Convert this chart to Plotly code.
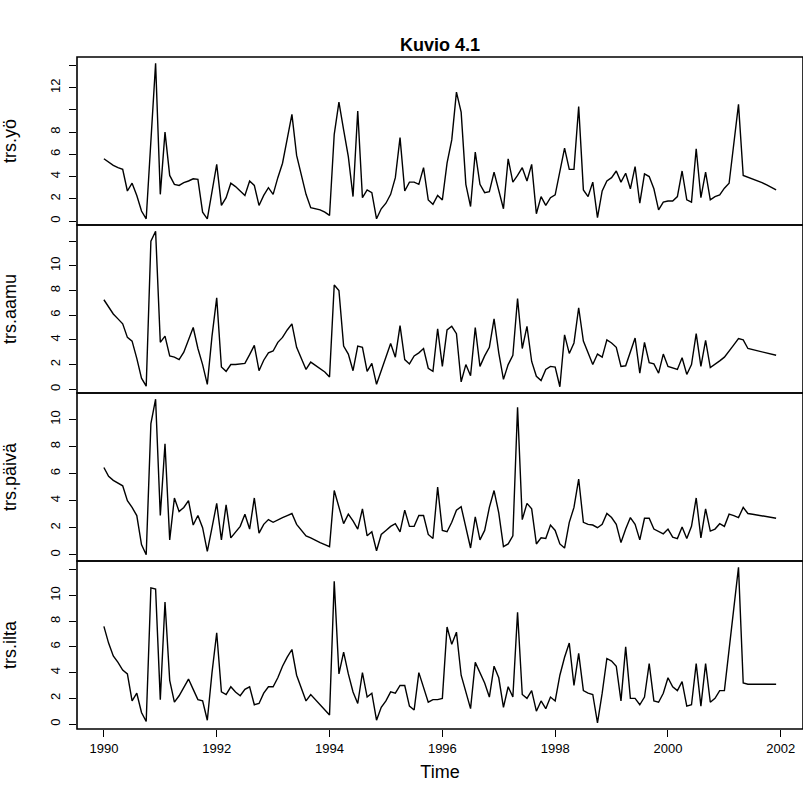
import plotly.graph_objects as go

# Monthly series, January 1990 - December 2001
start_year = 1990

trs_yo = [
    5.6, 5.3, 5.0, 4.8, 4.65, 2.7, 3.4, 2.3, 0.9, 0.2, 7.7, 14.2,
    2.4, 8.0, 4.1, 3.3, 3.2, 3.45, 3.6, 3.8, 3.75, 0.8, 0.2, 2.6,
    5.1, 1.4, 2.1, 3.4, 3.1, 2.7, 2.3, 3.6, 3.2, 1.4, 2.3, 3.0,
    2.4, 3.9, 5.2, 7.4, 9.6, 5.9, 4.1, 2.4, 1.2, 1.1, 1.0, 0.8,
    0.5, 7.8, 10.7, 8.2, 5.8, 2.2, 9.9, 2.1, 2.8, 2.55, 0.2, 1.1,
    1.6, 2.4, 3.9, 7.5, 2.7, 3.5, 3.5, 3.3, 4.8, 1.9, 1.5, 2.3,
    1.9, 5.2, 7.3, 11.6, 9.8, 3.3, 1.3, 6.2, 3.3, 2.55, 2.65, 4.4,
    2.7, 1.1, 5.6, 3.5, 4.1, 4.8, 3.6, 5.1, 0.65, 2.2, 1.4, 2.1,
    2.35, 4.55, 6.55, 4.65, 4.65, 10.3, 2.8, 2.2, 3.5, 0.3, 2.7, 3.6,
    3.9, 4.5, 3.5, 4.3, 2.9, 4.9, 1.6, 4.25, 4.0, 2.9, 1.0, 1.7,
    1.8, 1.8, 2.2, 4.5, 1.9, 1.7, 6.5, 2.1, 4.4, 1.9, 2.2, 2.35,
    2.95, 3.4, 7.0, 10.5, 4.1, 3.95, 3.8, 3.6, 3.45, 3.25, 3.05, 2.8,
]

trs_aamu = [
    7.25, 6.7, 6.1, 5.7, 5.3, 4.2, 3.9, 2.5, 0.9, 0.25, 12.0, 12.8,
    3.8, 4.3, 2.7, 2.6, 2.4, 3.0, 4.0, 5.0, 3.3, 2.0, 0.4, 4.3,
    7.4, 1.8, 1.45, 2.0, 2.0, 2.05, 2.1, 2.8, 3.55, 1.5, 2.35, 2.95,
    3.1, 3.8, 4.2, 4.8, 5.3, 3.4, 2.5, 1.6, 2.2, 1.95, 1.7, 1.4,
    1.0, 8.45, 8.0, 3.5, 2.85, 1.5, 3.5, 3.4, 1.45, 2.1, 0.4, 1.45,
    2.5, 3.7, 2.6, 5.15, 2.4, 2.05, 2.7, 2.95, 3.3, 1.7, 1.45, 4.9,
    1.85, 4.8, 5.1, 4.5, 0.6, 2.0, 1.1, 5.0, 1.85, 2.7, 3.4, 5.7,
    2.95, 0.8, 2.0, 2.75, 7.35, 3.3, 5.1, 2.25, 1.05, 0.7, 1.6, 1.85,
    1.8, 0.2, 4.4, 2.9, 3.75, 6.6, 3.9, 2.9, 2.0, 2.85, 2.6, 4.0,
    3.75, 3.4, 1.85, 1.9, 3.0, 4.15, 1.3, 3.8, 2.15, 2.05, 1.3, 2.85,
    1.85, 1.75, 1.6, 2.55, 1.2, 2.0, 4.5, 1.85, 3.95, 1.75, 2.0, 2.3,
    2.6, 3.15, 3.6, 4.1, 4.0, 3.3, 3.2, 3.1, 3.0, 2.9, 2.8, 2.75,
]

trs_paiva = [
    6.45, 5.8, 5.5, 5.3, 5.1, 4.0, 3.5, 2.9, 0.75, 0.0, 9.7, 11.5,
    2.9, 8.2, 1.1, 4.2, 3.2, 3.5, 4.0, 2.2, 2.9, 2.0, 0.25, 2.0,
    3.8, 1.1, 3.7, 1.25, 1.7, 2.1, 3.0, 1.9, 4.2, 1.6, 2.25, 2.6,
    2.4, 2.6, 2.75, 2.9, 3.05, 2.25, 1.8, 1.4, 1.25, 1.05, 0.9, 0.75,
    0.6, 4.75, 3.5, 2.3, 3.0, 2.5, 1.9, 3.4, 1.4, 1.7, 0.3, 1.5,
    1.8, 2.1, 2.3, 1.7, 3.3, 2.1, 2.1, 2.9, 2.9, 1.5, 1.2, 5.0,
    1.8, 1.7, 2.4, 3.3, 3.55, 2.0, 0.5, 2.8, 1.1, 1.8, 3.5, 4.75,
    3.1, 0.6, 0.8, 1.4, 10.9, 2.6, 3.8, 3.4, 0.8, 1.25, 1.2, 2.2,
    1.8, 0.8, 0.5, 2.4, 3.5, 5.6, 2.4, 2.25, 2.2, 2.0, 2.25, 3.05,
    2.75, 2.25, 0.9, 1.9, 2.75, 2.25, 1.1, 2.7, 2.7, 1.9, 1.75, 1.55,
    1.9, 1.3, 1.2, 2.05, 1.2, 2.1, 4.2, 1.25, 3.4, 1.75, 1.9, 2.3,
    2.1, 3.0, 2.9, 2.75, 3.5, 3.05, 3.0, 2.95, 2.9, 2.8, 2.75, 2.7,
]

trs_ilta = [
    7.6, 6.3, 5.3, 4.8, 4.2, 3.9, 1.8, 2.4, 0.9, 0.2, 10.6, 10.5,
    1.9, 9.5, 3.4, 1.7, 2.2, 2.8, 3.5, 2.7, 1.9, 1.8, 0.3, 4.0,
    7.1, 2.5, 2.3, 2.9, 2.5, 2.2, 2.7, 2.9, 1.5, 1.6, 2.4, 2.9,
    2.9, 3.6, 4.5, 5.2, 5.8, 3.8, 2.8, 1.8, 2.3, 1.9, 1.5, 1.1,
    0.7, 11.1, 3.9, 5.6, 3.9, 2.5, 1.6, 4.0, 2.1, 2.4, 0.3, 1.3,
    1.8, 2.5, 2.4, 3.0, 3.0, 1.4, 1.1, 4.0, 2.9, 1.7, 1.9, 1.9,
    2.0, 7.55, 6.2, 7.15, 3.8, 2.5, 1.2, 4.8, 4.0, 3.2, 2.1, 4.5,
    3.6, 1.3, 2.9, 2.1, 8.7, 2.3, 2.0, 2.6, 1.0, 1.8, 1.2, 2.1,
    1.8, 3.8, 5.2, 6.3, 3.0, 5.5, 2.6, 2.4, 2.3, 0.1, 2.4, 5.1,
    4.9, 4.5, 1.8, 6.0, 2.0, 2.0, 1.5, 2.1, 4.7, 1.8, 1.7, 2.4,
    3.6, 2.9, 2.6, 3.3, 1.4, 1.5, 4.7, 1.4, 4.7, 1.7, 2.0, 2.6,
    2.6, 6.0, 9.0, 12.2, 3.2, 3.1, 3.1, 3.1, 3.1, 3.1, 3.1, 3.1,
]

series_names = ["trs.yö", "trs.aamu", "trs.päivä", "trs.ilta"]
series_values = [trs_yo, trs_aamu, trs_paiva, trs_ilta]

# y tick positions per panel, and the labels that are printed
y_tick_values = [
    [0, 2, 4, 6, 8, 10, 12, 14],
    [0, 2, 4, 6, 8, 10, 12],
    [0, 2, 4, 6, 8, 10, 12],
    [0, 2, 4, 6, 8, 10, 12],
]
y_tick_labels = [
    ["0", "2", "4", "6", "8", "", "12", ""],
    ["0", "2", "4", "6", "8", "10", ""],
    ["0", "2", "4", "6", "8", "10", "12"],
    ["0", "2", "4", "6", "8", "10", ""],
]
x_tick_years = [1990, 1992, 1994, 1996, 1998, 2000, 2002]

title_text = "Kuvio 4.1"
x_title = "Time"

W, H = 803, 796
M_L, M_R, M_T, M_B = 77, 0, 57, 67
FONT = "Liberation Sans, Arial, Helvetica, sans-serif"
TICK_FONT = 13
LABEL_FONT = 18
BOX_W = 1.6

n = len(trs_yo)
time = [start_year + k / 12 for k in range(n)]


def padded(lo, hi, frac=0.04):
    d = (hi - lo) * frac
    return [lo - d, hi + d]


x_range = padded(time[0], time[-1])

fig = go.Figure()
layout = dict(
    width=W, height=H,
    margin=dict(l=M_L, r=M_R, t=M_T, b=M_B, pad=0),
    paper_bgcolor="white", plot_bgcolor="white",
    showlegend=False,
    font=dict(family=FONT, color="black", size=TICK_FONT),
)

shapes = []
n_panels = len(series_values)
for k, (name, vals) in enumerate(zip(series_names, series_values)):
    ax = "" if k == 0 else str(k + 1)
    fig.add_trace(go.Scatter(
        x=time, y=vals, mode="lines",
        line=dict(color="black", width=1.4),
        xaxis="x" + ax, yaxis="y" + ax,
        hoverinfo="skip",
    ))
    top = 1 - k / n_panels
    bottom = 1 - (k + 1) / n_panels
    last = k == n_panels - 1
    layout["xaxis" + ax] = dict(
        domain=[0, 1], anchor="y" + ax, range=x_range,
        showline=False, showgrid=False, zeroline=False, automargin=False,
        tickvals=x_tick_years if last else [],
        ticks="outside" if last else "", ticklen=7, tickwidth=1.3,
        tickcolor="black",
        showticklabels=last, tickfont=dict(size=TICK_FONT),
        title=dict(text=x_title, font=dict(size=LABEL_FONT), standoff=10) if last else None,
    )
    if k > 0:
        layout["xaxis" + ax]["matches"] = "x"
    layout["yaxis" + ax] = dict(
        domain=[bottom, top], anchor="x" + ax,
        range=padded(min(vals), max(vals)),
        showline=False, showgrid=False, zeroline=False, automargin=False,
        tickvals=y_tick_values[k], ticktext=y_tick_labels[k],
        ticks="outside", ticklen=7, tickwidth=1.3, tickcolor="black",
        ticklabelstandoff=4,
        tickangle=-90, tickfont=dict(size=TICK_FONT),
        title=dict(text=name, font=dict(size=LABEL_FONT), standoff=26),
    )
    # frame around each panel; neighbouring frames share one edge
    shapes.append(dict(
        type="rect", xref="x" + ax + " domain", yref="y" + ax + " domain",
        x0=0, x1=1, y0=0, y1=1,
        line=dict(color="black", width=BOX_W), fillcolor="rgba(0,0,0,0)",
        layer="above",
    ))

layout["shapes"] = shapes
layout["annotations"] = [dict(
    text="<b>" + title_text + "</b>", xref="paper", yref="paper",
    x=0.5, y=1 + 12 / (H - M_T - M_B), xanchor="center", yanchor="middle",
    showarrow=False, font=dict(size=LABEL_FONT, family=FONT),
)]

fig.update_layout(**layout)
fig.write_html("out.html")
